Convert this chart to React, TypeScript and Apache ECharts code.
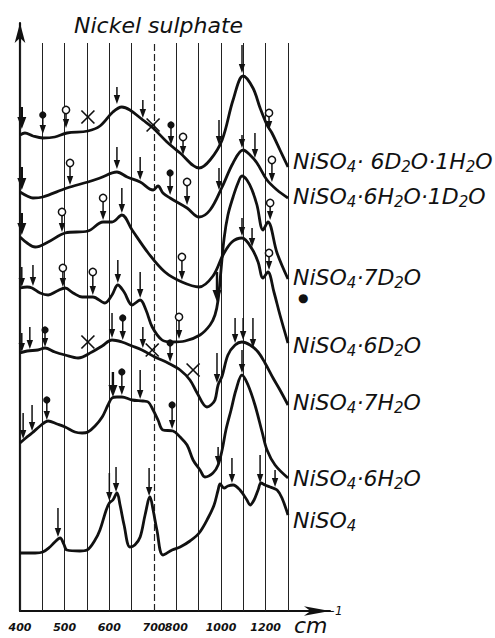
import React, { useEffect, useRef } from 'react';
import * as echarts from 'echarts';

// Reference lines of the chart, in cm-1 (the scale changes at the dashed 700 cm-1 line)
const GRID_WN = [400, 450, 500, 550, 600, 650, 700, 800, 900, 1000, 1100, 1200, 1300];
const DASHED_WN = [700];
const TICK_WN = [400, 500, 600, 700, 800, 1000, 1200];
const TICK_TEXT = ['400', '500', '600', '700', '800', '1000', '1200'];
const REF_LINE_TOP = 568;

// Spectra: [wavenumber cm-1, vertical position (arbitrary units, stacked)]
const NISO4_6D2O_1H2O = [[400,476],[411,478],[429,475],[451,473],[478,474],[505,478],[552,480],[579,485],[608,499],[628,504],[646,501],[675,491],[698,483],[758,469],[817,458],[902,443],[951,451],[1005,471],[1054,511],[1099,535],[1143,523],[1175,503],[1206,486],[1228,478],[1264,461],[1300,444]];
const NISO4_6H2O_1D2O = [[400,419],[416,415],[429,413],[451,414],[505,423],[552,429],[579,433],[617,439],[640,434],[669,429],[698,421],[718,425],[740,418],[772,413],[848,403],[902,394],[951,401],[1005,424],[1054,448],[1099,461],[1130,456],[1161,448],[1206,431],[1251,421],[1300,413]];
const NISO4_6D2O = [[400,374],[416,368],[434,364],[463,369],[501,378],[552,380],[586,389],[606,389],[628,396],[651,381],[687,358],[749,339],[825,329],[902,324],[964,335],[1009,356],[1049,369],[1094,373],[1139,362],[1166,349],[1188,333],[1210,339],[1237,319],[1264,296],[1300,268]];
const NISO4_7D2O = [[400,323],[416,324],[427,323],[445,318],[463,316],[483,320],[501,323],[519,318],[539,314],[563,314],[590,308],[606,316],[619,326],[633,319],[651,306],[669,311],[682,301],[696,284],[736,271],[781,269],[839,270],[906,276],[951,286],[973,296],[987,311],[1000,341],[1014,373],[1031,396],[1054,414],[1076,428],[1094,435],[1116,431],[1139,421],[1161,406],[1188,381],[1210,389],[1251,358],[1300,332]];
const NISO4_7H2O = [[400,258],[416,260],[440,261],[456,263],[478,259],[501,256],[530,253],[561,259],[584,265],[606,271],[628,269],[651,265],[673,261],[704,254],[763,248],[817,241],[861,231],[893,218],[937,204],[955,206],[973,211],[987,226],[1005,235],[1031,256],[1063,266],[1094,269],[1130,266],[1166,259],[1197,248],[1233,233],[1264,221],[1300,206]];
const NISO4_6H2O = [[400,168],[413,173],[427,178],[445,185],[463,190],[483,187],[501,184],[523,179],[539,178],[552,179],[568,185],[584,194],[597,206],[606,213],[617,214],[628,214],[651,211],[675,210],[687,209],[698,201],[718,191],[740,181],[785,180],[817,174],[848,166],[875,151],[906,141],[928,134],[964,138],[987,146],[1005,161],[1022,181],[1045,201],[1067,221],[1094,236],[1121,226],[1152,206],[1184,179],[1206,161],[1242,146],[1300,133]];
const NISO4 = [[400,58],[434,58],[451,59],[467,64],[478,69],[490,73],[498,67],[505,61],[534,60],[550,61],[568,71],[579,81],[593,101],[600,108],[608,111],[617,118],[624,106],[633,86],[646,64],[657,66],[669,74],[680,96],[691,114],[698,101],[713,81],[740,56],[781,61],[817,64],[861,70],[902,78],[942,93],[969,106],[987,121],[996,127],[1014,123],[1031,125],[1054,126],[1085,121],[1116,111],[1130,106],[1148,111],[1166,121],[1179,128],[1197,126],[1220,124],[1251,121],[1273,113],[1300,96]];

const SPECTRA = [NISO4_6D2O_1H2O, NISO4_6H2O_1D2O, NISO4_6D2O, NISO4_7D2O, NISO4_7H2O, NISO4_6H2O, NISO4];
const SPECTRA_LABELS = ['NiSO_4· 6D_2O·1H_2O', 'NiSO_4·6H_2O·1D_2O', 'NiSO_4·6D_2O', 'NiSO_4·7D_2O', 'NiSO_4·7H_2O', 'NiSO_4·6H_2O', 'NiSO_4'];

// Band markers: [wavenumber, top of stem, tip on the curve]
const ARROW_MARKS = [
  [617,524,507],[675,511,493],[991,491,466],[1094,566,538],
  [617,464,442],[669,454,431],[991,443,421],[1094,476,463],[1152,478,453],
  [628,423,398],[1094,393,375],[1139,383,364],
  [404,344,324],[429,346,325],[619,351,328],[669,339,313],
  [404,278,259],[422,284,262],[606,298,273],[675,284,263],[982,258,228],[1063,293,268],[1099,293,271],[1143,293,263],
  [407,198,172],[427,206,180],[669,241,212],[987,164,146],[1094,261,238],
  [485,103,74],[600,138,110],[615,144,119],[689,143,115],[1049,153,128],[1175,156,128],[1242,141,124],
];
const THICK_ARROW_MARKS = [[404,504,482],[404,444,421],[404,398,376],[982,339,309],[608,239,214]];
// Open circle on a stem: [wavenumber, circle, tip]
const OPEN_MARKS = [
  [503,501,483],[830,474,456],[1215,498,481],
  [512,448,426],[848,429,406],[1228,451,429],
  [494,399,379],[586,413,391],[825,354,331],[1215,358,341],
  [496,343,324],[563,339,316],[812,294,272],[1220,408,391],
];
// Filled dot on a stem: [wavenumber, dot, tip]
const DOT_MARKS = [
  [451,496,477],[776,486,466],
  [772,438,416],
  [456,281,264],[630,293,271],[772,268,249],
  [460,211,191],[628,239,216],[781,206,182],
];
// Crosses: [wavenumber, position]
const CROSS_MARKS = [[552,494],[698,486],[552,269],[696,261],[875,241]];

const FONT = 'DejaVu Sans';
const INK = '#111';

function pos(wn: number): number {
  const n = GRID_WN.length;
  for (let i = 0; i < n - 1; i++) {
    if (wn <= GRID_WN[i + 1] || i === n - 2) {
      return i + (wn - GRID_WN[i]) / (GRID_WN[i + 1] - GRID_WN[i]);
    }
  }
  return 0;
}

function richLabel(s: string): string {
  return '{a|' + s.replace(/_(\d)/g, '}{s|$1}{a|') + '}';
}

const RICH = {
  a: { fontSize: 22, fontFamily: FONT, fontStyle: 'italic', color: INK },
  s: { fontSize: 15, fontFamily: FONT, fontStyle: 'italic', color: INK, padding: [11, 0, 0, 0] },
  d: { fontSize: 12, fontFamily: FONT, color: INK, padding: [2, 0, 0, 5] },
};

const LABEL_DY = [-6, -2, 2, 5, -3, 0, 5];

function buildOption() {
  const lineSeries = SPECTRA.map((curve, k) => ({
    type: 'line',
    data: curve.map(([w, h]) => [pos(w), h]),
    smooth: 0.35,
    showSymbol: false,
    silent: true,
    z: 3,
    lineStyle: { color: INK, width: 2.8 },
    endLabel: {
      show: true,
      distance: 5,
      offset: [0, LABEL_DY[k]],
      formatter: () => richLabel(SPECTRA_LABELS[k]) + (k === 3 ? '\n{d|●}' : ''),
      rich: RICH,
    },
  }));

  const markData: number[][] = [];
  ARROW_MARKS.forEach(([w, t, p]) => markData.push([pos(w), t, p, 0, 0]));
  THICK_ARROW_MARKS.forEach(([w, t, p]) => markData.push([pos(w), t, p, 0, 1]));
  OPEN_MARKS.forEach(([w, t, p]) => markData.push([pos(w), t, p, 1, 0]));
  DOT_MARKS.forEach(([w, t, p]) => markData.push([pos(w), t, p, 2, 0]));
  CROSS_MARKS.forEach(([w, h]) => markData.push([pos(w), h, h, 3, 0]));

  const markerSeries = {
    type: 'custom',
    silent: true,
    z: 4,
    data: markData,
    encode: { x: 0, y: [1, 2] },
    renderItem: (params: any, api: any) => {
      const x = api.value(0), top = api.value(1), tip = api.value(2);
      const kind = api.value(3), thick = api.value(4);
      const p1 = api.coord([x, top]);
      const p2 = api.coord([x, tip]);
      const children: any[] = [];
      if (kind === 3) {
        const s = 6.5;
        children.push({ type: 'line', shape: { x1: p1[0] - s, y1: p1[1] - s, x2: p1[0] + s, y2: p1[1] + s }, style: { stroke: INK, lineWidth: 1.7 } });
        children.push({ type: 'line', shape: { x1: p1[0] - s, y1: p1[1] + s, x2: p1[0] + s, y2: p1[1] - s }, style: { stroke: INK, lineWidth: 1.7 } });
      } else {
        const hw = thick ? 4.5 : 3.2;
        const hl = thick ? 12 : 9;
        children.push({ type: 'line', shape: { x1: p1[0], y1: p1[1], x2: p2[0], y2: p2[1] - hl + 1 }, style: { stroke: INK, lineWidth: thick ? 2.4 : 1.5 } });
        children.push({ type: 'polygon', shape: { points: [[p2[0] - hw, p2[1] - hl], [p2[0] + hw, p2[1] - hl], [p2[0], p2[1]]] }, style: { fill: INK } });
        if (kind === 1) children.push({ type: 'circle', shape: { cx: p1[0], cy: p1[1], r: 3.6 }, style: { fill: '#fff', stroke: INK, lineWidth: 1.5 } });
        if (kind === 2) children.push({ type: 'circle', shape: { cx: p1[0], cy: p1[1], r: 3.6 }, style: { fill: INK } });
      }
      return { type: 'group', children };
    },
  };

  const refLines = {
    type: 'lines',
    coordinateSystem: 'cartesian2d',
    silent: true,
    z: 1,
    symbol: 'none',
    lineStyle: { color: '#222', width: 1, opacity: 1 },
    data: GRID_WN.map((w) => ({
      coords: [[pos(w), 0], [pos(w), REF_LINE_TOP]],
      lineStyle: DASHED_WN.indexOf(w) >= 0 ? { type: [7, 3], width: 1.2 } : {},
    })),
  };

  return {
    animation: false,
    backgroundColor: '#fff',
    title: {
      text: 'Nickel sulphate',
      left: 74,
      top: 14,
      padding: 0,
      textStyle: { fontFamily: FONT, fontStyle: 'italic', fontWeight: 'normal', fontSize: 22, color: INK },
    },
    grid: { left: 20, right: 165, top: 23, bottom: 27 },
    xAxis: {
      type: 'value',
      min: 0,
      max: 13.88,
      interval: 1,
      axisLine: { show: true, symbol: ['none', 'arrow'], symbolSize: [7, 26], lineStyle: { color: INK, width: 2 } },
      axisTick: { show: false },
      splitLine: { show: false },
      axisLabel: {
        margin: 11,
        fontFamily: FONT,
        fontStyle: 'italic',
        fontWeight: 'bold',
        fontSize: 11,
        color: INK,
        showMaxLabel: false,
        formatter: (v: number) => {
          for (let i = 0; i < TICK_WN.length; i++) {
            if (Math.abs(pos(TICK_WN[i]) - v) < 0.01) return TICK_TEXT[i];
          }
          return '';
        },
      },
    },
    yAxis: {
      type: 'value',
      min: 0,
      max: 588,
      axisLine: { show: true, symbol: ['none', 'arrow'], symbolSize: [8, 20], lineStyle: { color: INK, width: 2.2 } },
      axisTick: { show: false },
      axisLabel: { show: false },
      splitLine: { show: false },
    },
    graphic: [
      { type: 'text', left: 294, top: 614, style: { text: 'cm', font: 'italic 22px "DejaVu Sans"', fill: INK } },
      { type: 'text', left: 325, top: 605, style: { text: '−1', font: 'italic 12px "DejaVu Sans"', fill: INK } },
    ],
    series: [refLines, ...lineSeries, markerSeries],
  };
}

export default function App() {
  const ref = useRef<HTMLDivElement>(null);
  useEffect(() => {
    const chart = echarts.init(ref.current!, null, { renderer: 'svg' });
    chart.setOption(buildOption() as any);
    return () => chart.dispose();
  }, []);
  return (
    <div
      ref={ref}
      style={{ position: 'absolute', left: 0, top: 0, width: 495, height: 638, background: '#fff' }}
    />
  );
}
